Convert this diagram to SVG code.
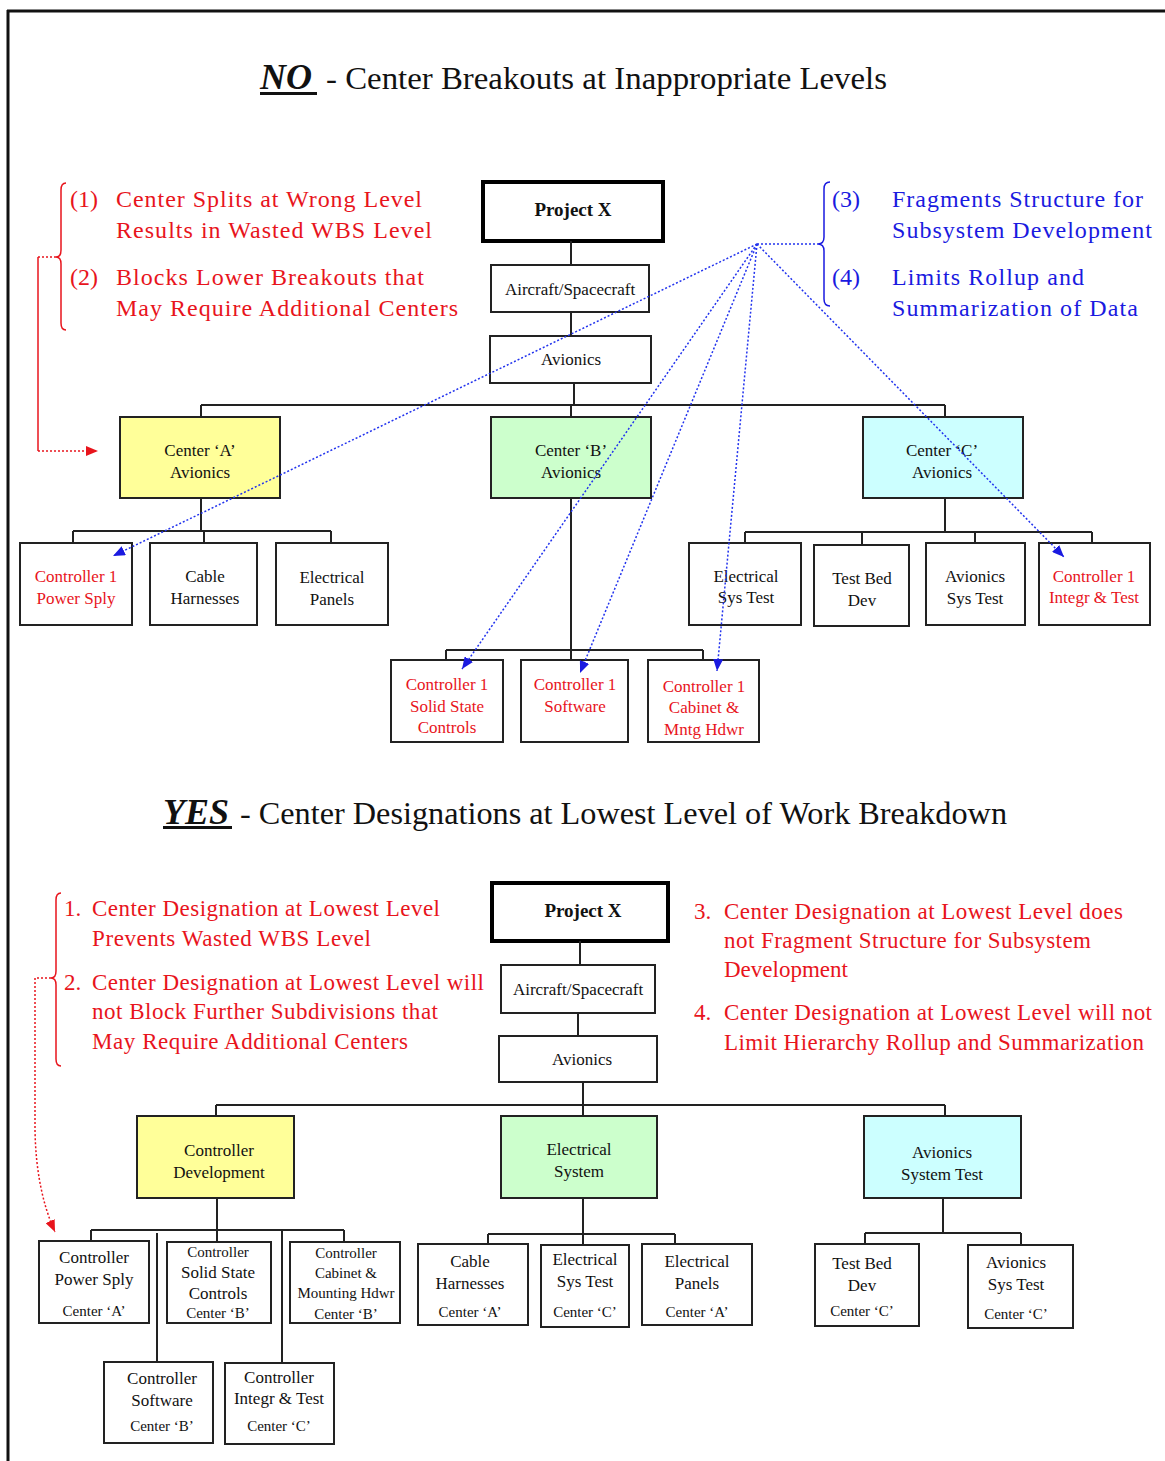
<svg xmlns="http://www.w3.org/2000/svg" width="1165" height="1461" viewBox="0 0 1165 1461">
<style>
text{font-family:"Liberation Serif","Times New Roman",serif;fill:#111}
.bx{fill:#fff;stroke:#222;stroke-width:2}
.pj{fill:#fff;stroke:#000;stroke-width:4}
.ya{fill:#FFFF99;stroke:#222;stroke-width:2}
.gr{fill:#CCFFCC;stroke:#222;stroke-width:2}
.cy{fill:#CCFFFF;stroke:#222;stroke-width:2}
.t{font-size:17px;text-anchor:middle}
.s{font-size:15px;text-anchor:middle}
.b{font-size:19px;font-weight:bold;text-anchor:middle}
.r{fill:#E8141C}
.rt{font-size:24px;fill:#E8141C}
.bt{font-size:24px;fill:#1A1AE0}
.rb{font-size:23px;fill:#E8141C}
.ln{fill:none;stroke:#222;stroke-width:2}
.bd{fill:none;stroke:#2233EE;stroke-width:1.5;stroke-dasharray:2 2}
.rd{fill:none;stroke:#E8141C;stroke-width:1.5;stroke-dasharray:2 2}
.rs{fill:none;stroke:#E8141C;stroke-width:1.5}
.ttl{font-size:32px}
</style>
<defs>
<marker id="ab" markerUnits="userSpaceOnUse" markerWidth="12" markerHeight="10" refX="12" refY="5" orient="auto"><path d="M0,0 L12,5 L0,10 z" fill="#1A1AE0"/></marker>
<marker id="ar" markerUnits="userSpaceOnUse" markerWidth="12" markerHeight="10" refX="12" refY="5" orient="auto"><path d="M0,0 L12,5 L0,10 z" fill="#E8141C"/></marker>
</defs>
<g id="frame"><path d="M7,11 H1165 M8,10 V1461" fill="none" stroke="#111" stroke-width="3"/></g>

<g id="title-no">
<text x="260" y="89" style="font-size:36px;font-weight:bold;font-style:italic">NO</text>
<rect x="260" y="92" width="57" height="3" fill="#111"/>
<text x="326" y="89" class="ttl" textLength="561" lengthAdjust="spacingAndGlyphs">- Center Breakouts at Inappropriate Levels</text>
</g>

<g id="notes-top-left">
<path class="rs" d="M66,183 Q61,183 61,190 L61,250 Q61,257 56,257 Q61,257 61,264 L61,323 Q61,330 66,330"/>
<text x="70" y="207" class="rt">(1)</text>
<text x="116" y="207" class="rt" textLength="306" lengthAdjust="spacing">Center Splits at Wrong Level</text>
<text x="116" y="238" class="rt" textLength="316" lengthAdjust="spacing">Results in Wasted WBS Level</text>
<text x="70" y="285" class="rt">(2)</text>
<text x="116" y="285" class="rt" textLength="308" lengthAdjust="spacing">Blocks Lower Breakouts that</text>
<text x="116" y="316" class="rt" textLength="342" lengthAdjust="spacing">May Require Additional Centers</text>
</g>

<g id="notes-top-right">
<path d="M830,182 Q824,182 824,189 L824,237 Q824,244 818,244 Q824,244 824,251 L824,299 Q824,306 830,306" fill="none" stroke="#1A1AE0" stroke-width="1.5"/>
<text x="832" y="207" class="bt">(3)</text>
<text x="892" y="207" class="bt" textLength="251" lengthAdjust="spacing">Fragments Structure for</text>
<text x="892" y="238" class="bt" textLength="260" lengthAdjust="spacing">Subsystem Development</text>
<text x="832" y="285" class="bt">(4)</text>
<text x="892" y="285" class="bt" textLength="192" lengthAdjust="spacing">Limits Rollup and</text>
<text x="892" y="316" class="bt" textLength="246" lengthAdjust="spacing">Summarization of Data</text>
</g>

<g id="n-projx-top"><rect class="pj" x="483" y="182" width="180" height="59"/><text class="b" x="573" y="216">Project X</text></g>
<g id="n-aircraft-top"><rect class="bx" x="491" y="265" width="158" height="47"/><text class="t" x="570" y="295">Aircraft/Spacecraft</text></g>
<g id="n-avionics-top"><rect class="bx" x="490" y="336" width="161" height="47"/><text class="t" x="571" y="365">Avionics</text></g>
<g id="n-center-a"><rect class="ya" x="120" y="417" width="160" height="81"/><text class="t" x="200" y="456">Center ‘A’</text><text class="t" x="200" y="478">Avionics</text></g>
<g id="n-center-b"><rect class="gr" x="491" y="417" width="160" height="81"/><text class="t" x="571" y="456">Center ‘B’</text><text class="t" x="571" y="478">Avionics</text></g>
<g id="n-center-c"><rect class="cy" x="863" y="417" width="160" height="81"/><text class="t" x="942" y="456">Center ‘C’</text><text class="t" x="942" y="478">Avionics</text></g>
<g id="n-a1"><rect class="bx" x="20" y="543" width="112" height="82"/><text class="t r" x="76" y="582">Controller 1</text><text class="t r" x="76" y="604">Power Sply</text></g>
<g id="n-a2"><rect class="bx" x="150" y="543" width="107" height="82"/><text class="t" x="205" y="582">Cable</text><text class="t" x="205" y="604">Harnesses</text></g>
<g id="n-a3"><rect class="bx" x="276" y="543" width="112" height="82"/><text class="t" x="332" y="583">Electrical</text><text class="t" x="332" y="605">Panels</text></g>
<g id="n-b1"><rect class="bx" x="391" y="660" width="112" height="82"/><text class="t r" x="447" y="690">Controller 1</text><text class="t r" x="447" y="712">Solid State</text><text class="t r" x="447" y="733">Controls</text></g>
<g id="n-b2"><rect class="bx" x="521" y="660" width="107" height="82"/><text class="t r" x="575" y="690">Controller 1</text><text class="t r" x="575" y="712">Software</text></g>
<g id="n-b3"><rect class="bx" x="648" y="660" width="111" height="82"/><text class="t r" x="704" y="692">Controller 1</text><text class="t r" x="704" y="713">Cabinet &amp;</text><text class="t r" x="704" y="735">Mntg Hdwr</text></g>
<g id="n-c1"><rect class="bx" x="689" y="543" width="112" height="82"/><text class="t" x="746" y="582">Electrical</text><text class="t" x="746" y="603">Sys Test</text></g>
<g id="n-c2"><rect class="bx" x="814" y="545" width="95" height="81"/><text class="t" x="862" y="584">Test Bed</text><text class="t" x="862" y="606">Dev</text></g>
<g id="n-c3"><rect class="bx" x="926" y="543" width="99" height="82"/><text class="t" x="975" y="582">Avionics</text><text class="t" x="975" y="604">Sys Test</text></g>
<g id="n-c4"><rect class="bx" x="1039" y="543" width="111" height="82"/><text class="t r" x="1094" y="582">Controller 1</text><text class="t r" x="1094" y="603">Integr &amp; Test</text></g>

<g id="title-yes">
<text x="163" y="824" style="font-size:36px;font-weight:bold;font-style:italic">YES</text>
<rect x="163" y="826" width="69" height="3" fill="#111"/>
<text x="240" y="824" class="ttl" textLength="767" lengthAdjust="spacingAndGlyphs">- Center Designations at Lowest Level of Work Breakdown</text>
</g>

<g id="notes-bottom-left">
<path class="rs" d="M61,893 Q56,893 56,900 L56,971 Q56,978 51,978 Q56,978 56,985 L56,1059 Q56,1066 61,1066"/>
<text x="64" y="916" class="rb">1.</text>
<text x="92" y="916" class="rb" textLength="348" lengthAdjust="spacing">Center Designation at Lowest Level</text>
<text x="92" y="946" class="rb" textLength="279" lengthAdjust="spacing">Prevents Wasted WBS Level</text>
<text x="64" y="990" class="rb">2.</text>
<text x="92" y="990" class="rb" textLength="392" lengthAdjust="spacing">Center Designation at Lowest Level will</text>
<text x="92" y="1019" class="rb" textLength="346" lengthAdjust="spacing">not Block Further Subdivisions that</text>
<text x="92" y="1049" class="rb" textLength="316" lengthAdjust="spacing">May Require Additional Centers</text>
</g>

<g id="notes-bottom-right">
<text x="694" y="919" class="rb">3.</text>
<text x="724" y="919" class="rb" textLength="399" lengthAdjust="spacing">Center Designation at Lowest Level does</text>
<text x="724" y="948" class="rb" textLength="367" lengthAdjust="spacing">not Fragment Structure for Subsystem</text>
<text x="724" y="977" class="rb">Development</text>
<text x="694" y="1020" class="rb">4.</text>
<text x="724" y="1020" class="rb" textLength="428" lengthAdjust="spacing">Center Designation at Lowest Level will not</text>
<text x="724" y="1050" class="rb" textLength="420" lengthAdjust="spacing">Limit Hierarchy Rollup and Summarization</text>
</g>

<g id="n-projx-bot"><rect class="pj" x="492" y="883" width="176" height="58"/><text class="b" x="583" y="917">Project X</text></g>
<g id="n-aircraft-bot"><rect class="bx" x="501" y="965" width="154" height="48"/><text class="t" x="578" y="995">Aircraft/Spacecraft</text></g>
<g id="n-avionics-bot"><rect class="bx" x="499" y="1036" width="158" height="46"/><text class="t" x="582" y="1065">Avionics</text></g>
<g id="n-ctrl-dev"><rect class="ya" x="137" y="1116" width="157" height="82"/><text class="t" x="219" y="1156">Controller</text><text class="t" x="219" y="1178">Development</text></g>
<g id="n-elec-sys"><rect class="gr" x="501" y="1116" width="156" height="82"/><text class="t" x="579" y="1155">Electrical</text><text class="t" x="579" y="1177">System</text></g>
<g id="n-av-systest"><rect class="cy" x="864" y="1116" width="157" height="82"/><text class="t" x="942" y="1158">Avionics</text><text class="t" x="942" y="1180">System Test</text></g>

<g id="n-cps"><rect class="bx" x="39" y="1241" width="110" height="82"/><text class="t" x="94" y="1263">Controller</text><text class="t" x="94" y="1285">Power Sply</text><text class="s" x="94" y="1316">Center ‘A’</text></g>
<g id="n-css"><rect class="bx" x="167" y="1242" width="104" height="81"/><text class="s" x="218" y="1257">Controller</text><text class="t" x="218" y="1278">Solid State</text><text class="t" x="218" y="1299">Controls</text><text class="s" x="218" y="1318">Center ‘B’</text></g>
<g id="n-ccm"><rect class="bx" x="290" y="1242" width="110" height="81"/><text class="s" x="346" y="1258">Controller</text><text class="s" x="346" y="1278">Cabinet &amp;</text><text class="s" x="346" y="1298">Mounting Hdwr</text><text class="s" x="346" y="1319">Center ‘B’</text></g>
<g id="n-csw"><rect class="bx" x="104" y="1362" width="109" height="81"/><text class="t" x="162" y="1384">Controller</text><text class="t" x="162" y="1406">Software</text><text class="s" x="162" y="1431">Center ‘B’</text></g>
<g id="n-cit"><rect class="bx" x="225" y="1363" width="109" height="81"/><text class="t" x="279" y="1383">Controller</text><text class="t" x="279" y="1404">Integr &amp; Test</text><text class="s" x="279" y="1431">Center ‘C’</text></g>
<g id="n-ch"><rect class="bx" x="418" y="1244" width="110" height="81"/><text class="t" x="470" y="1267">Cable</text><text class="t" x="470" y="1289">Harnesses</text><text class="s" x="470" y="1317">Center ‘A’</text></g>
<g id="n-est"><rect class="bx" x="541" y="1245" width="88" height="82"/><text class="t" x="585" y="1265">Electrical</text><text class="t" x="585" y="1287">Sys Test</text><text class="s" x="585" y="1317">Center ‘C’</text></g>
<g id="n-ep"><rect class="bx" x="642" y="1244" width="110" height="81"/><text class="t" x="697" y="1267">Electrical</text><text class="t" x="697" y="1289">Panels</text><text class="s" x="697" y="1317">Center ‘A’</text></g>
<g id="n-tbd"><rect class="bx" x="815" y="1244" width="104" height="82"/><text class="t" x="862" y="1269">Test Bed</text><text class="t" x="862" y="1291">Dev</text><text class="s" x="862" y="1316">Center ‘C’</text></g>
<g id="n-ast"><rect class="bx" x="968" y="1245" width="105" height="83"/><text class="t" x="1016" y="1268">Avionics</text><text class="t" x="1016" y="1290">Sys Test</text><text class="s" x="1016" y="1319">Center ‘C’</text></g>

<g id="connectors">
<path class="ln" d="M571,241 V265 M571,312 V336 M574,383 V405 M201,405 H945 M201,405 V417 M571,405 V417 M945,405 V417"/>
<path class="ln" d="M201,498 V531 M73,531 H331 M73,531 V543 M204,531 V543 M331,531 V543"/>
<path class="ln" d="M571,498 V660 M446,650 H703 M446,650 V660 M703,650 V660"/>
<path class="ln" d="M945,498 V532 M745,532 H1092 M745,532 V543 M862,532 V545 M975,532 V543 M1092,532 V543"/>
<path class="bd" d="M757,244 H818"/>
<path class="bd" d="M757,244 L113,556" marker-end="url(#ab)"/>
<path class="bd" d="M757,244 L462,669" marker-end="url(#ab)"/>
<path class="bd" d="M757,244 L580,673" marker-end="url(#ab)"/>
<path class="bd" d="M757,244 L717,671" marker-end="url(#ab)"/>
<path class="bd" d="M757,244 L1064,557" marker-end="url(#ab)"/>
<path class="rd" d="M56,257 H38"/>
<path class="rs" d="M38,257 V451"/>
<path class="rd" d="M38,451 H98" marker-end="url(#ar)"/>
<path class="ln" d="M580,941 V965 M578,1013 V1036 M583,1082 V1105 M216,1105 H945 M216,1105 V1116 M583,1105 V1116 M945,1105 V1116"/>
<path class="ln" d="M217,1198 V1242 M91,1230 H344 M91,1230 V1241 M344,1230 V1242 M157,1233 V1362 M282,1230 V1363"/>
<path class="ln" d="M583,1198 V1245 M488,1234 H675 M488,1234 V1244 M675,1234 V1244"/>
<path class="ln" d="M943,1198 V1233 M865,1233 H1021 M865,1233 V1244 M1021,1233 V1245"/>
<path class="rd" d="M51,978 H35 V1130 Q36,1190 55,1232" marker-end="url(#ar)"/>
</g>
</svg>
